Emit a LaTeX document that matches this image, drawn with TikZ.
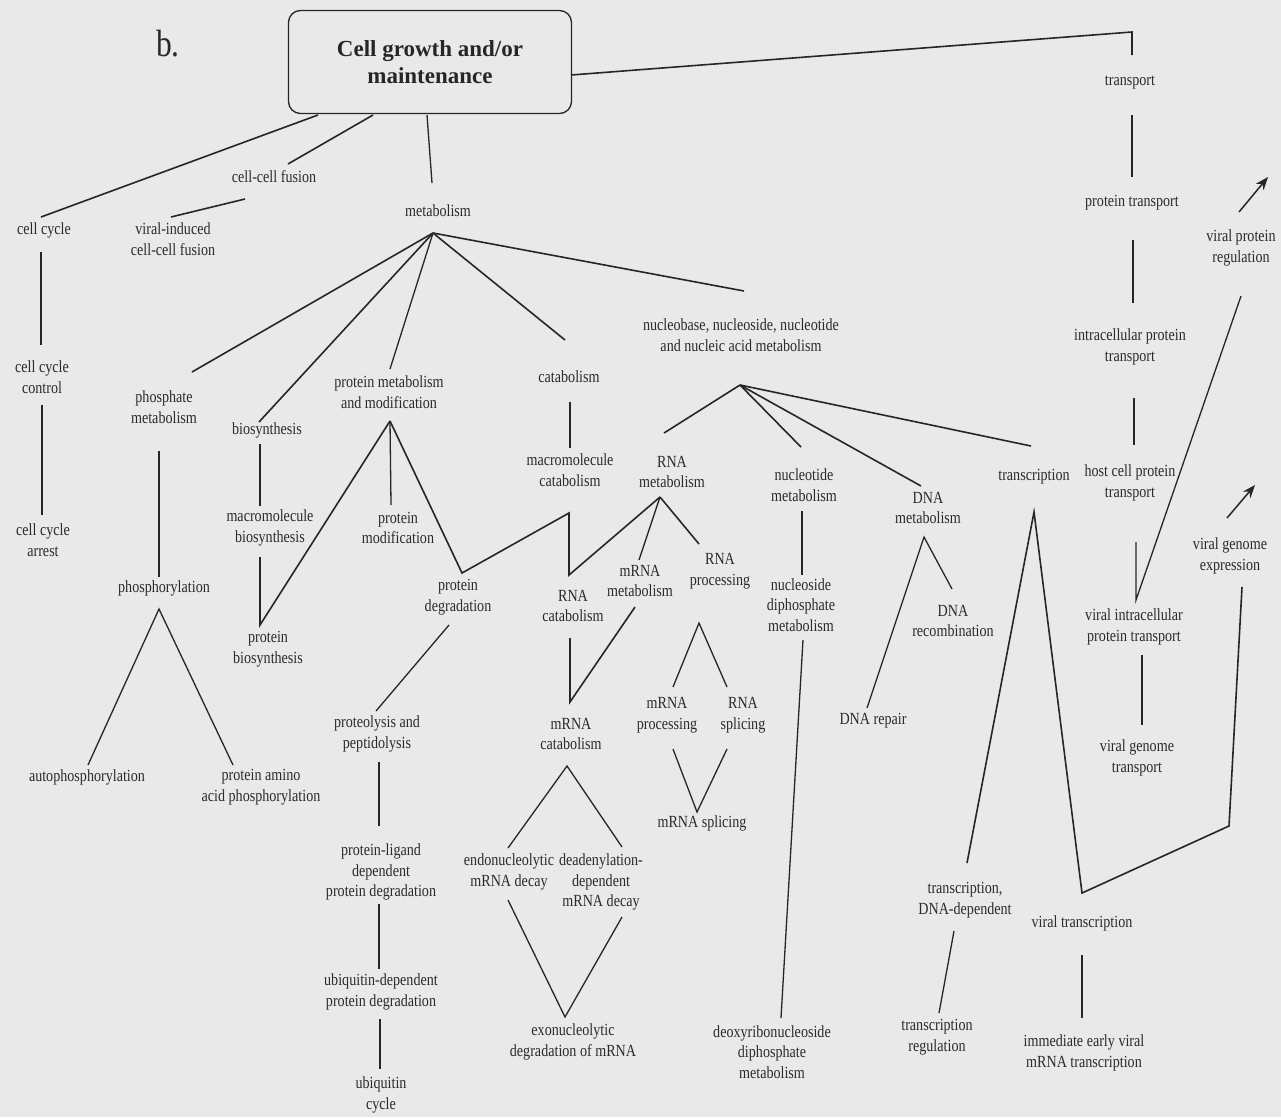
\documentclass[tikz,border=0pt]{standalone}
\usepackage{fontspec}
\setmainfont{Liberation Serif}
\newfontfamily\labfont[FakeStretch=0.83]{Liberation Serif}
\usetikzlibrary{arrows.meta}
\definecolor{paper}{RGB}{233,233,233}
\definecolor{ink}{RGB}{38,38,38}
\definecolor{txt}{RGB}{42,42,42}

\begin{document}
\begin{tikzpicture}[x=1pt,y=-1pt,
  lbl/.style={font=\labfont\fontsize{17}{20.5}\selectfont, align=center, inner sep=0pt, text=txt},
  link/.style={draw=ink, line width=1.6pt, line join=miter},
  vlink/.style={draw=ink, line width=1.3pt},
  uparrow/.style={draw=ink, line width=1.5pt, -{Stealth[length=13pt,width=10pt]}},
]
\fill[paper] (0,0) rectangle (1281,1117);
\useasboundingbox (0,0) rectangle (1281,1117);

% ---------- root ----------
\node[draw=ink, line width=1.3pt, rounded corners=12pt, minimum width=283pt,
      minimum height=103pt, align=center, text=ink,
      font=\bfseries\fontsize{23}{27}\selectfont] (root) at (430,62)
      {Cell growth and/or\\maintenance};
\node[font=\labfont\fontsize{38}{40}\selectfont, text=txt, inner sep=0pt] (panel) at (168,44) {b.};

% ---------- labels ----------
\node[lbl] (cyc)    at (44,230)  {cell cycle};
\node[lbl] (fus)    at (274,177) {cell-cell fusion};
\node[lbl] (vif)    at (173,239) {viral-induced\\cell-cell fusion};
\node[lbl] (met)    at (438,211) {metabolism};
\node[lbl] (trn)    at (1130,83) {transport};
\node[lbl] (ptr)    at (1132,203) {protein transport};
\node[lbl] (vpr)    at (1241,248) {viral protein\\regulation};
\node[lbl] (ipt)    at (1130,347) {intracellular protein\\transport};
\node[lbl] (hcp)    at (1130,483) {host cell protein\\transport};
\node[lbl] (vge)    at (1230,556) {viral genome\\expression};
\node[lbl] (vip)    at (1134,627) {viral intracellular\\protein transport};
\node[lbl] (vgt)    at (1137,758) {viral genome\\transport};
\node[lbl] (ccc)    at (42,377)  {cell cycle\\control};
\node[lbl] (cca)    at (43,540)  {cell cycle\\arrest};
\node[lbl] (phm)    at (164,407) {phosphate\\metabolism};
\node[lbl] (bio)    at (267,430) {biosynthesis};
\node[lbl] (pmm)    at (389,392) {protein metabolism\\and modification};
\node[lbl] (cat)    at (569,377) {catabolism};
\node[lbl] (mbio)   at (270,528) {macromolecule\\biosynthesis};
\node[lbl] (pmod)   at (398,528) {protein\\modification};
\node[lbl] (mcat)   at (570,470) {macromolecule\\catabolism};
\node[lbl] (phos)   at (164,588) {phosphorylation};
\node[lbl] (pbio)   at (268,649) {protein\\biosynthesis};
\node[lbl] (pdeg)   at (458,597) {protein\\degradation};
\node[lbl] (rcat)   at (573,606) {RNA\\catabolism};
\node[lbl] (rmet)   at (672,472) {RNA\\metabolism};
\node[lbl] (mmet)   at (640,581) {mRNA\\metabolism};
\node[lbl] (rpro)   at (720,571) {RNA\\processing};
\node[lbl] (mpro)   at (667,715) {mRNA\\processing};
\node[lbl] (rspl)   at (743,715) {RNA\\splicing};
\node[lbl] (mcata)  at (571,734) {mRNA\\catabolism};
\node[lbl] (mspl)   at (702,823) {mRNA splicing};
\node[lbl] (nuc)    at (741,335) {nucleobase, nucleoside, nucleotide\\and nucleic acid metabolism};
\node[lbl] (ntm)    at (804,485) {nucleotide\\metabolism};
\node[lbl] (dnam)   at (928,508) {DNA\\metabolism};
\node[lbl] (tsc)    at (1034,477) {transcription};
\node[lbl] (ndp)    at (801,605) {nucleoside\\diphosphate\\metabolism};
\node[lbl] (drec)   at (953,621) {DNA\\recombination};
\node[lbl] (drep)   at (873,721) {DNA repair};
\node[lbl] (auto)   at (87,777)  {autophosphorylation};
\node[lbl] (paa)    at (261,787) {protein amino\\acid phosphorylation};
\node[lbl] (prot)   at (377,734) {proteolysis and\\peptidolysis};
\node[lbl] (plig)   at (381,872) {protein-ligand\\dependent\\protein degradation};
\node[lbl] (ubd)    at (381,992) {ubiquitin-dependent\\protein degradation};
\node[lbl] (ubc)    at (381,1095) {ubiquitin\\cycle};
\node[lbl] (endo)   at (509,872) {endonucleolytic\\mRNA decay};
\node[lbl] (dead)   at (601,882) {deadenylation-\\dependent\\mRNA decay};
\node[lbl] (exo)    at (573,1042) {exonucleolytic\\degradation of mRNA};
\node[lbl] (dxr)    at (772,1052) {deoxyribonucleoside\\diphosphate\\metabolism};
\node[lbl] (tdd)    at (965,900) {transcription,\\DNA-dependent};
\node[lbl] (treg)   at (937,1037) {transcription\\regulation};
\node[lbl] (vtr)    at (1082,923) {viral transcription};
\node[lbl] (iev)    at (1084,1053) {immediate early viral\\mRNA transcription};

% ---------- connector end points ----------
\coordinate (rootA) at (318,115);  \coordinate (cycT) at (41,217);
\coordinate (rootB) at (373,115);  \coordinate (fusT) at (288,164);
\coordinate (rootC) at (427,115);  \coordinate (metT) at (432,183);
\coordinate (fusB) at (245,199);   \coordinate (vifT) at (171,217);
\coordinate (rootE) at (571,75);   \coordinate (trnK) at (1132,32);
\coordinate (trnT) at (1132,55);
\coordinate (trnB) at (1132,115);  \coordinate (ptrT) at (1132,177);
\coordinate (ptrB) at (1133,240);  \coordinate (iptT) at (1133,303);
\coordinate (iptB) at (1134,398);  \coordinate (hcpT) at (1134,445);
\coordinate (hcpB) at (1136,542);  \coordinate (vipT) at (1136,600);
\coordinate (vprB) at (1241,296);
\coordinate (vprA) at (1239,212);  \coordinate (vprH) at (1268,177);
\coordinate (vgeA) at (1227,518);  \coordinate (vgeH) at (1255,485);
\coordinate (vipB) at (1142,655);  \coordinate (vgtT) at (1142,725);
\coordinate (tscA) at (1034,512);  \coordinate (tddT) at (967,863);
\coordinate (vtrK) at (1082,893);  \coordinate (vgeK) at (1229,826);
\coordinate (vgeB) at (1242,587);
\coordinate (tddB) at (954,931);   \coordinate (tregT) at (939,1013);
\coordinate (vtrB) at (1082,955);  \coordinate (ievT) at (1082,1018);
\coordinate (cycB) at (41,252);    \coordinate (cccT) at (41,345);
\coordinate (cccB) at (42,405);    \coordinate (ccaT) at (42,515);
\coordinate (metA) at (433,233);
\coordinate (phmT) at (192,372);   \coordinate (bioT) at (259,422);
\coordinate (pmmT) at (390,369);   \coordinate (catT) at (565,340);
\coordinate (nucW) at (744,291);
\coordinate (phmB) at (159,451);   \coordinate (phosT) at (159,577);
\coordinate (phosA) at (159,609);
\coordinate (autoT) at (88,765);   \coordinate (paaT) at (233,765);
\coordinate (bioB) at (260,444);   \coordinate (mbioT) at (260,506);
\coordinate (mbioB) at (260,557);  \coordinate (pbioT) at (260,625);
\coordinate (pmmA) at (390,421);   \coordinate (pmodT) at (391,505);
\coordinate (pdegT) at (462,573);  \coordinate (mcatK) at (569,513);
\coordinate (rcatT) at (569,575);  \coordinate (rmetA) at (660,497);
\coordinate (mmetT) at (639,560);  \coordinate (rproT) at (699,544);
\coordinate (catB) at (570,402);   \coordinate (mcatT) at (570,448);
\coordinate (rcatB) at (570,638);  \coordinate (mcataT) at (570,702);
\coordinate (mmetB) at (635,607);
\coordinate (rproA) at (699,623);
\coordinate (mproT) at (673,687);  \coordinate (rsplT) at (727,687);
\coordinate (mproB) at (673,749);  \coordinate (msplT) at (697,812);
\coordinate (rsplB) at (727,749);
\coordinate (mcataA) at (567,766);
\coordinate (endoT) at (508,848);  \coordinate (deadT) at (622,847);
\coordinate (endoB) at (508,900);  \coordinate (exoT) at (565,1017);
\coordinate (deadB) at (622,917);
\coordinate (pdegB) at (449,625);  \coordinate (protT) at (376,711);
\coordinate (protB) at (379,762);  \coordinate (pligT) at (379,826);
\coordinate (pligB) at (379,904);  \coordinate (ubdT) at (379,969);
\coordinate (ubdB) at (380,1019);  \coordinate (ubcT) at (380,1069);
\coordinate (nucA) at (740,385);
\coordinate (rmetT) at (664,433);  \coordinate (ntmT) at (801,447);
\coordinate (dnamT) at (921,486);  \coordinate (tscT) at (1031,446);
\coordinate (ntmB) at (802,511);   \coordinate (ndpT) at (802,575);
\coordinate (ndpB) at (803,640);   \coordinate (dxrT) at (781,1018);
\coordinate (dnamA) at (924,537);
\coordinate (drecT) at (952,589);  \coordinate (drepT) at (867,708);

% ---------- connectors ----------
\draw[link] (rootA) -- (cycT);
\draw[link] (rootB) -- (fusT);
\draw[vlink] (rootC) -- (metT);
\draw[link] (fusB) -- (vifT);
\draw[link] (rootE) -- (trnK) -- (trnT);
\draw[vlink] (trnB) -- (ptrT);
\draw[vlink] (ptrB) -- (iptT);
\draw[vlink] (iptB) -- (hcpT);
\draw[vlink] (hcpB) -- (vipT) -- (vprB);
\draw[uparrow] (vprA) -- (vprH);
\draw[uparrow] (vgeA) -- (vgeH);
\draw[vlink] (vipB) -- (vgtT);
\draw[link] (tddT) -- (tscA) -- (vtrK) -- (vgeK) -- (vgeB);
\draw[vlink] (tddB) -- (tregT);
\draw[vlink] (vtrB) -- (ievT);

\draw[vlink] (cycB) -- (cccT);
\draw[vlink] (cccB) -- (ccaT);
\draw[link] (metA) -- (phmT);
\draw[link] (metA) -- (bioT);
\draw[vlink] (metA) -- (pmmT);
\draw[link] (metA) -- (catT);
\draw[link] (metA) -- (nucW);
\draw[vlink] (phmB) -- (phosT);
\draw[vlink] (autoT) -- (phosA) -- (paaT);
\draw[vlink] (bioB) -- (mbioT);
\draw[link] (mbioB) -- (pbioT) -- (pmmA);
\draw[vlink] (pmmA) -- (pmodT);
\draw[link] (pmmA) -- (pdegT) -- (mcatK) -- (rcatT) -- (rmetA);
\draw[vlink] (rmetA) -- (mmetT);
\draw[link] (rmetA) -- (rproT);
\draw[vlink] (catB) -- (mcatT);
\draw[link] (rcatB) -- (mcataT) -- (mmetB);
\draw[vlink] (mproT) -- (rproA) -- (rsplT);
\draw[vlink] (mproB) -- (msplT) -- (rsplB);
\draw[vlink] (endoT) -- (mcataA) -- (deadT);
\draw[vlink] (endoB) -- (exoT) -- (deadB);
\draw[vlink] (pdegB) -- (protT);
\draw[vlink] (protB) -- (pligT);
\draw[vlink] (pligB) -- (ubdT);
\draw[vlink] (ubdB) -- (ubcT);
\draw[link] (nucA) -- (rmetT);
\draw[link] (nucA) -- (ntmT);
\draw[link] (nucA) -- (dnamT);
\draw[link] (nucA) -- (tscT);
\draw[vlink] (ntmB) -- (ndpT);
\draw[vlink] (ndpB) -- (dxrT);
\draw[vlink] (drepT) -- (dnamA) -- (drecT);
\end{tikzpicture}
\end{document}
